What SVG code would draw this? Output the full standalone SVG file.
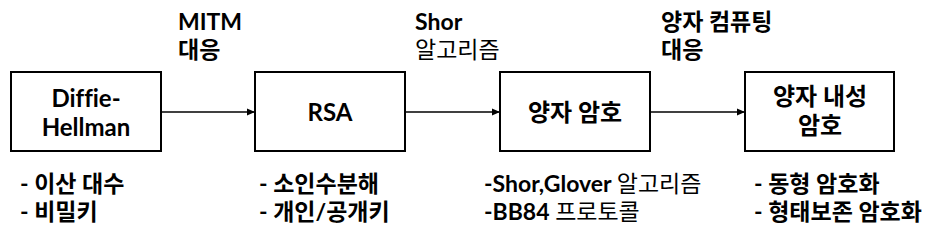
<svg xmlns="http://www.w3.org/2000/svg" width="944" height="232" viewBox="0 0 944 232">
<style>
text{font-family:Lato,"Noto Sans CJK KR",sans-serif;font-size:23px;fill:#000;font-weight:700;font-variant-ligatures:none}
.r{font-weight:400}
.c{text-anchor:middle;font-size:24px}
.box{fill:#fff;stroke:#000;stroke-width:2}
.edge{stroke:#000;stroke-width:1.5;fill:none;marker-end:url(#ah)}
</style>
<defs>
<marker id="ah" viewBox="0 0 8 8" refX="8" refY="4" markerWidth="8" markerHeight="8" markerUnits="userSpaceOnUse" orient="auto">
<path d="M0,0.5 L8,4 L0,7.5 Z" fill="#000"/>
</marker>
</defs>
<rect width="944" height="232" fill="#fff"/>
<g id="connectors">
<line class="edge" x1="161" y1="112" x2="255" y2="112"/>
<line class="edge" x1="405" y1="112" x2="500" y2="112"/>
<line class="edge" x1="650" y1="112" x2="745" y2="112"/>
<text x="178" y="30">MITM</text>
<text x="178" y="58">대응</text>
<text x="415" y="30">Shor</text>
<text x="415" y="58" class="r">알고리즘</text>
<text x="661" y="30">양자 컴퓨팅</text>
<text x="661" y="58">대응</text>
</g>
<g id="dh">
<rect class="box" x="11" y="72" width="150" height="79"/>
<text class="c" x="86" y="107">Diffie-</text>
<text class="c" x="86" y="136">Hellman</text>
<text x="20" y="192">- 이산 대수</text>
<text x="20" y="220">- 비밀키</text>
</g>
<g id="rsa">
<rect class="box" x="255" y="72" width="150" height="79"/>
<text class="c" x="330" y="121">RSA</text>
<text x="259" y="192">- 소인수분해</text>
<text x="259" y="220">- 개인/공개키</text>
</g>
<g id="qc">
<rect class="box" x="500" y="72" width="150" height="79"/>
<text class="c" x="575" y="121">양자 암호</text>
<text x="484" y="192">-Shor,Glover <tspan class="r">알고리즘</tspan></text>
<text x="484" y="220">-BB84 <tspan class="r">프로토콜</tspan></text>
</g>
<g id="pqc">
<rect class="box" x="745" y="72" width="149" height="79"/>
<text class="c" x="820" y="105">양자 내성</text>
<text class="c" x="820" y="134">암호</text>
<text x="754" y="192">- 동형 암호화</text>
<text x="754" y="220">- 형태보존 암호화</text>
</g>
</svg>
